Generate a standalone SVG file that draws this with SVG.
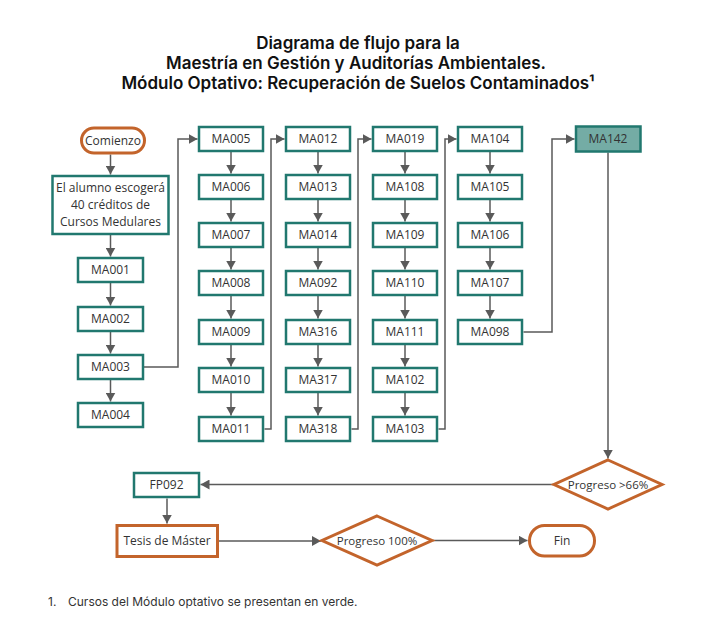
<svg xmlns="http://www.w3.org/2000/svg" width="716" height="644" viewBox="0 0 716 644">
<style>
.title{font-family:Inter,"Liberation Sans",sans-serif;font-weight:600;font-size:17px;fill:#111;text-anchor:middle}
.note{font-family:Inter,"Liberation Sans",sans-serif;font-size:12px;fill:#333}
.box{fill:#fff;stroke:#21786f;stroke-width:2.5}
.opt{fill:#74aca5;stroke:#21786f;stroke-width:2.5}
.term{fill:#fff;stroke:#c3642b;stroke-width:3}
.lbl{font-family:"Open Sans","Liberation Sans",sans-serif;font-size:12px;fill:#333;text-anchor:middle}
.dl{font-family:"Open Sans","Liberation Sans",sans-serif;font-size:11.5px;fill:#333;text-anchor:middle}
.ln{fill:none;stroke:#5a5a5a;stroke-width:1.5;marker-end:url(#ah)}
</style>
<defs>
<marker id="ah" markerUnits="userSpaceOnUse" markerWidth="9" markerHeight="10" refX="9" refY="5" orient="auto">
<path d="M0,0 L9,5 L0,10 z" fill="#5a5a5a"/>
</marker>
</defs>
<rect width="716" height="644" fill="#fff"/>
<g id="title">
<text class="title" x="358" y="49">Diagrama de flujo para la</text>
<text class="title" x="356" y="69">Maestría en Gestión y Auditorías Ambientales.</text>
<text class="title" x="358" y="89">Módulo Optativo: Recuperación de Suelos Contaminados¹</text>
</g>
<g id="connectors">
<path class="ln" d="M110.5,154.5 V174.5"/>
<path class="ln" d="M110.5,234.5 V256.5"/>
<path class="ln" d="M110.5,283 V305.5"/>
<path class="ln" d="M110.5,331.5 V353.5"/>
<path class="ln" d="M110.5,379.5 V401.5"/>
<path class="ln" d="M144,367 H178 V139 H197.5"/>
<path class="ln" d="M231,152 V173.5"/><path class="ln" d="M231,200 V221.5"/><path class="ln" d="M231,248 V269.5"/><path class="ln" d="M231,296 V318.5"/><path class="ln" d="M231,345 V366.5"/><path class="ln" d="M231,393 V415.5"/>
<path class="ln" d="M318,152 V173.5"/><path class="ln" d="M318,200 V221.5"/><path class="ln" d="M318,248 V269.5"/><path class="ln" d="M318,296 V318.5"/><path class="ln" d="M318,345 V366.5"/><path class="ln" d="M318,393 V415.5"/>
<path class="ln" d="M405,152 V173.5"/><path class="ln" d="M405,200 V221.5"/><path class="ln" d="M405,248 V269.5"/><path class="ln" d="M405,296 V318.5"/><path class="ln" d="M405,345 V366.5"/><path class="ln" d="M405,393 V415.5"/>
<path class="ln" d="M490,152 V173.5"/><path class="ln" d="M490,200 V221.5"/><path class="ln" d="M490,248 V269.5"/><path class="ln" d="M490,296 V318.5"/>
<path class="ln" d="M264.5,429 H271 V139 H284.5"/>
<path class="ln" d="M351.5,429 H358 V139 H371.5"/>
<path class="ln" d="M438.5,429 H445 V139 H456.5"/>
<path class="ln" d="M523.5,332 H552 V139 H574.5"/>
<path class="ln" d="M608,152.5 V458.5"/>
<path class="ln" d="M553,484.5 H200.5"/>
<path class="ln" d="M167,498.5 V523.5"/>
<path class="ln" d="M219,541 H321"/>
<path class="ln" d="M433,540.5 H527.5"/>
</g>
<g id="comienzo"><rect class="term" x="81.5" y="128" width="63" height="25" rx="12.5"/><text class="lbl" x="113" y="145">Comienzo</text></g>
<g id="alumno"><rect class="box" x="52.5" y="176" width="116" height="58"/>
<text class="lbl" x="110.5" y="192">El alumno escogerá</text>
<text class="lbl" x="110.5" y="209">40 créditos de</text>
<text class="lbl" x="110.5" y="225.5">Cursos Medulares</text></g>
<g id="ma001"><rect class="box" x="78" y="258" width="65" height="24"/><text class="lbl" x="110.5" y="274.3">MA001</text></g>
<g id="ma002"><rect class="box" x="78" y="307" width="65" height="24"/><text class="lbl" x="110.5" y="323.3">MA002</text></g>
<g id="ma003"><rect class="box" x="78" y="355" width="65" height="24"/><text class="lbl" x="110.5" y="371.3">MA003</text></g>
<g id="ma004"><rect class="box" x="78" y="403" width="65" height="24"/><text class="lbl" x="110.5" y="419.3">MA004</text></g>

<g id="ma005"><rect class="box" x="199" y="127" width="64" height="24"/><text class="lbl" x="231" y="143.3">MA005</text></g>
<g id="ma006"><rect class="box" x="199" y="175" width="64" height="24"/><text class="lbl" x="231" y="191.3">MA006</text></g>
<g id="ma007"><rect class="box" x="199" y="223" width="64" height="24"/><text class="lbl" x="231" y="239.3">MA007</text></g>
<g id="ma008"><rect class="box" x="199" y="271" width="64" height="24"/><text class="lbl" x="231" y="287.3">MA008</text></g>
<g id="ma009"><rect class="box" x="199" y="320" width="64" height="24"/><text class="lbl" x="231" y="336.3">MA009</text></g>
<g id="ma010"><rect class="box" x="199" y="368" width="64" height="24"/><text class="lbl" x="231" y="384.3">MA010</text></g>
<g id="ma011"><rect class="box" x="199" y="417" width="64" height="24"/><text class="lbl" x="231" y="433.3">MA011</text></g>

<g id="ma012"><rect class="box" x="286" y="127" width="64" height="24"/><text class="lbl" x="318" y="143.3">MA012</text></g>
<g id="ma013"><rect class="box" x="286" y="175" width="64" height="24"/><text class="lbl" x="318" y="191.3">MA013</text></g>
<g id="ma014"><rect class="box" x="286" y="223" width="64" height="24"/><text class="lbl" x="318" y="239.3">MA014</text></g>
<g id="ma092"><rect class="box" x="286" y="271" width="64" height="24"/><text class="lbl" x="318" y="287.3">MA092</text></g>
<g id="ma316"><rect class="box" x="286" y="320" width="64" height="24"/><text class="lbl" x="318" y="336.3">MA316</text></g>
<g id="ma317"><rect class="box" x="286" y="368" width="64" height="24"/><text class="lbl" x="318" y="384.3">MA317</text></g>
<g id="ma318"><rect class="box" x="286" y="417" width="64" height="24"/><text class="lbl" x="318" y="433.3">MA318</text></g>

<g id="ma019"><rect class="box" x="373" y="127" width="64" height="24"/><text class="lbl" x="405" y="143.3">MA019</text></g>
<g id="ma108"><rect class="box" x="373" y="175" width="64" height="24"/><text class="lbl" x="405" y="191.3">MA108</text></g>
<g id="ma109"><rect class="box" x="373" y="223" width="64" height="24"/><text class="lbl" x="405" y="239.3">MA109</text></g>
<g id="ma110"><rect class="box" x="373" y="271" width="64" height="24"/><text class="lbl" x="405" y="287.3">MA110</text></g>
<g id="ma111"><rect class="box" x="373" y="320" width="64" height="24"/><text class="lbl" x="405" y="336.3">MA111</text></g>
<g id="ma102"><rect class="box" x="373" y="368" width="64" height="24"/><text class="lbl" x="405" y="384.3">MA102</text></g>
<g id="ma103"><rect class="box" x="373" y="417" width="64" height="24"/><text class="lbl" x="405" y="433.3">MA103</text></g>

<g id="ma104"><rect class="box" x="458" y="127" width="64" height="24"/><text class="lbl" x="490" y="143.3">MA104</text></g>
<g id="ma105"><rect class="box" x="458" y="175" width="64" height="24"/><text class="lbl" x="490" y="191.3">MA105</text></g>
<g id="ma106"><rect class="box" x="458" y="223" width="64" height="24"/><text class="lbl" x="490" y="239.3">MA106</text></g>
<g id="ma107"><rect class="box" x="458" y="271" width="64" height="24"/><text class="lbl" x="490" y="287.3">MA107</text></g>
<g id="ma098"><rect class="box" x="458" y="320" width="64" height="24"/><text class="lbl" x="490" y="336.3">MA098</text></g>

<g id="ma142"><rect class="opt" x="576" y="126.5" width="64.5" height="25"/><text class="lbl" x="608" y="143.3">MA142</text></g>
<g id="progreso66"><path class="term" d="M608,460 L662,484.5 L608,509 L554,484.5 Z"/><text class="dl" x="608" y="488.5">Progreso &gt;66%</text></g>
<g id="fp092"><rect class="box" x="134" y="473" width="65" height="24"/><text class="lbl" x="166.5" y="489.3">FP092</text></g>
<g id="tesis"><rect class="term" x="117" y="525.5" width="100.5" height="31"/><text class="lbl" x="167" y="545.3">Tesis de Máster</text></g>
<g id="progreso100"><path class="term" d="M377,516 L432,540.5 L377,565 L322,540.5 Z"/><text class="dl" x="377" y="544.5">Progreso 100%</text></g>
<g id="fin"><rect class="term" x="529.5" y="525.5" width="65" height="30.5" rx="15"/><text class="lbl" x="562" y="545">Fin</text></g>
<g id="footnote">
<text class="note" x="48" y="606">1.</text>
<text class="note" x="68" y="606">Cursos del Módulo optativo se presentan en verde.</text>
</g>
</svg>
